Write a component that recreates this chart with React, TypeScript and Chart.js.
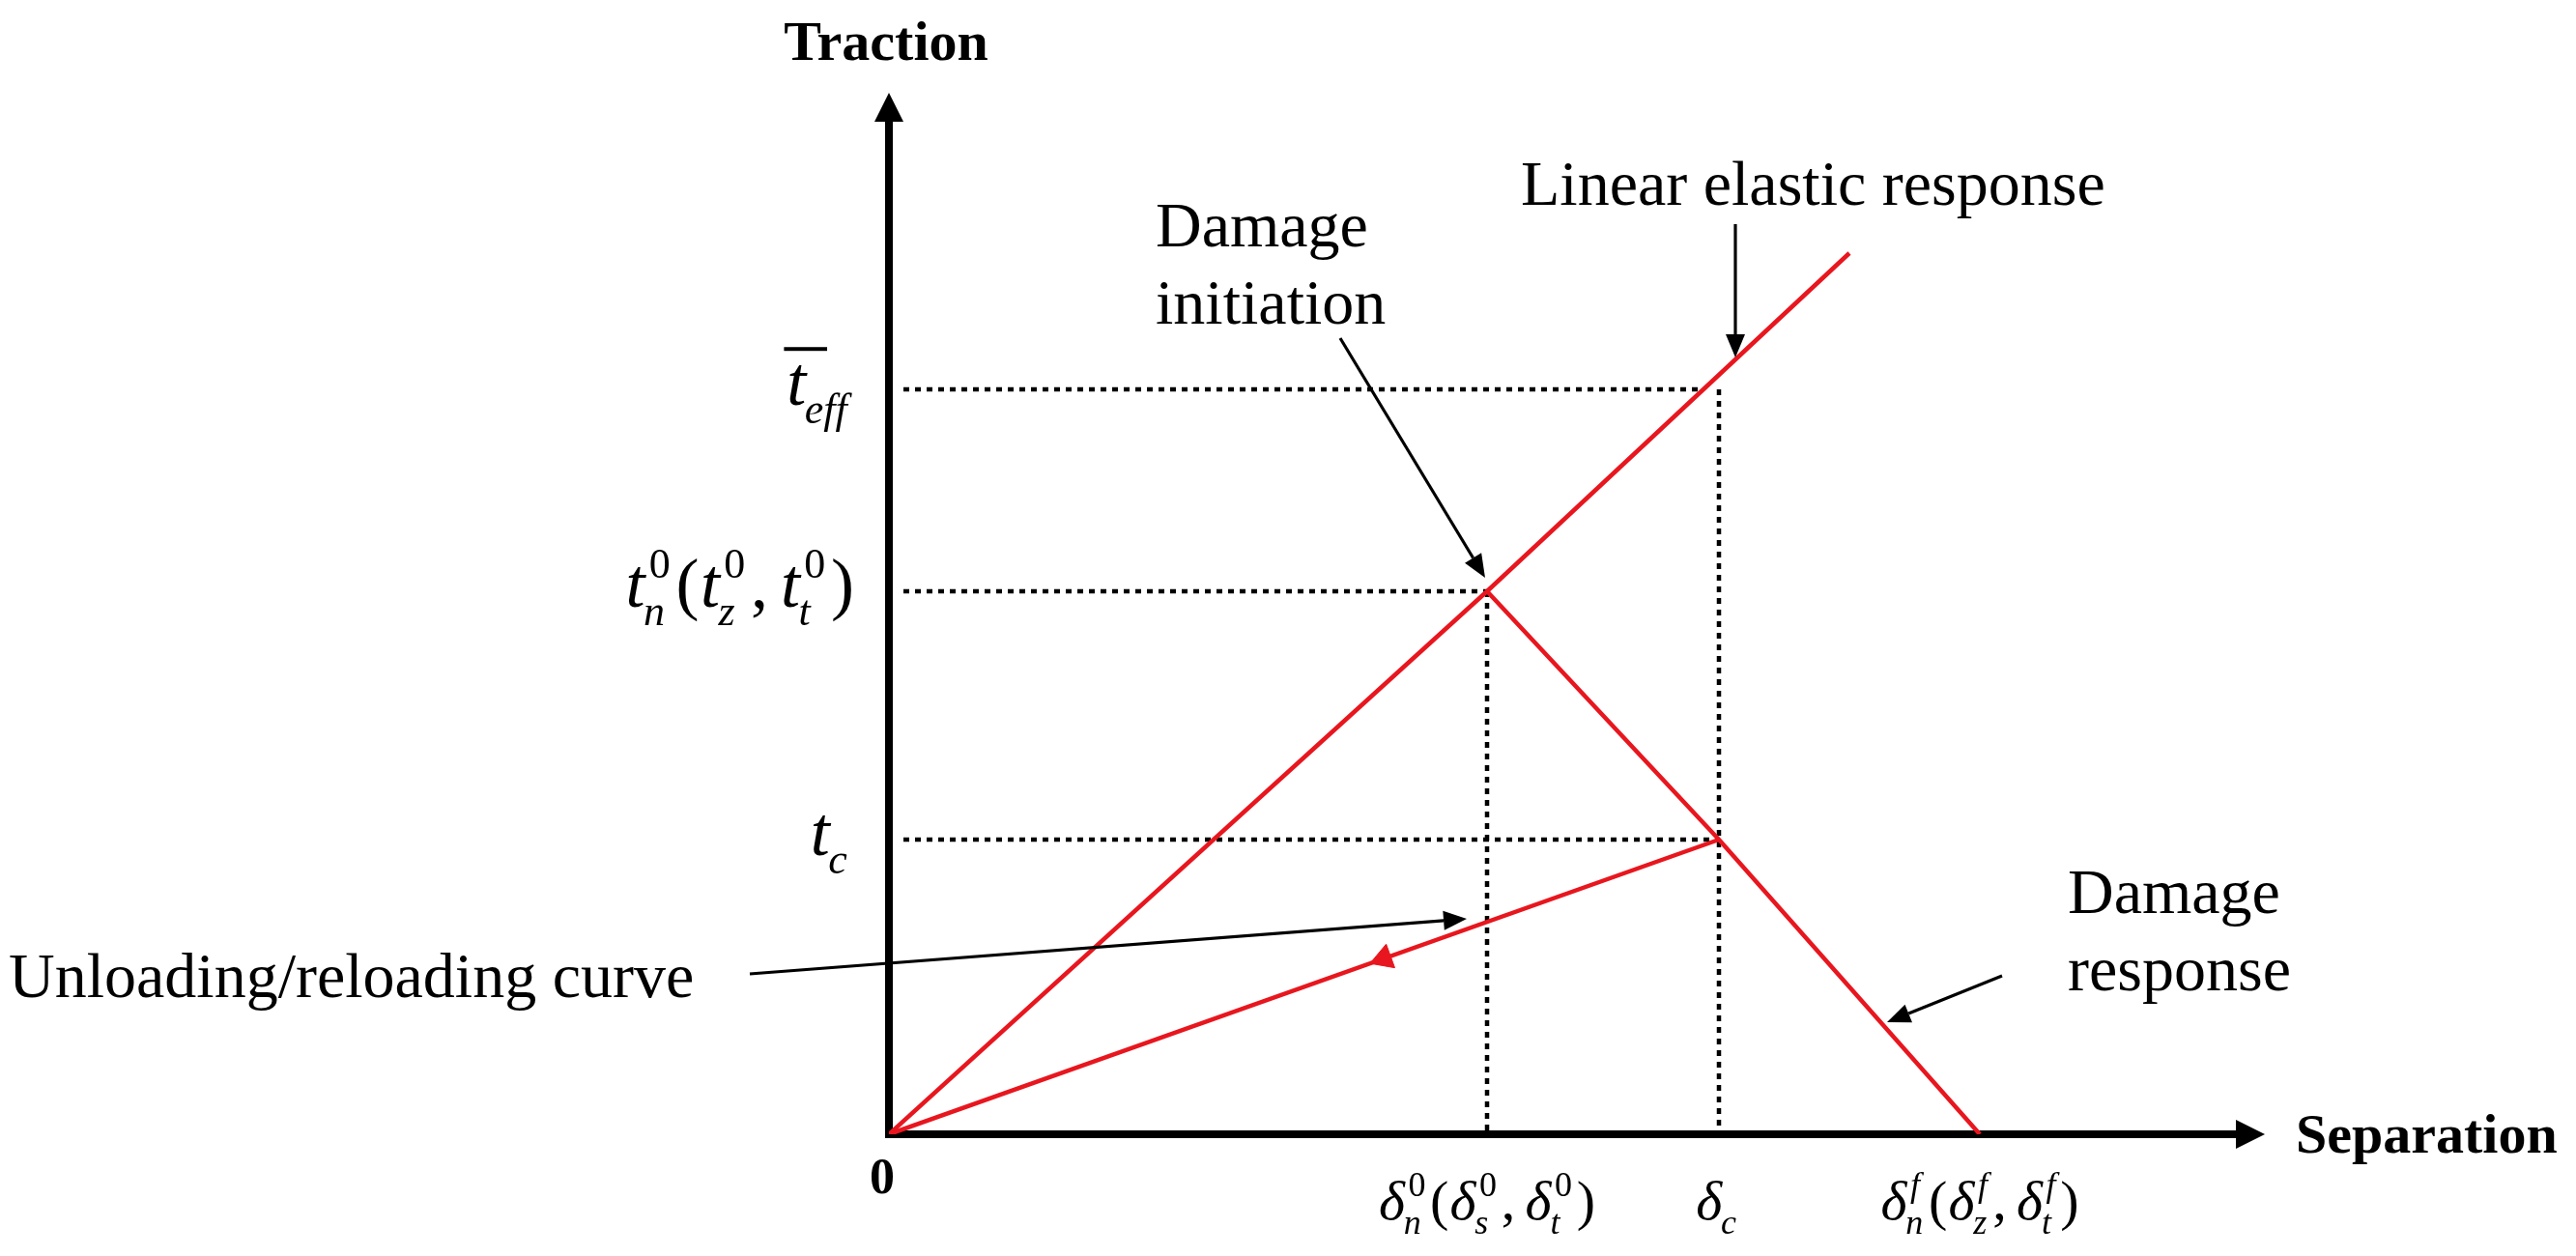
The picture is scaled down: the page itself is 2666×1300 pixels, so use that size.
import React, { useEffect, useRef } from 'react';
import { Chart, registerables } from 'chart.js';

Chart.register(...registerables);

const SERIF = "'Liberation Serif', 'Times New Roman', Times, serif";
const RED = '#e8161e';
const INK = '#000000';

// ---- axis extents (arbitrary units) ----
const X_RANGE = [0, 14.24];
const Y_RANGE = [0, 10.78];

// ---- key values of the traction–separation law ----
const SEPARATION_KEYS = [6.19, 8.59, 11.29]; // δn0, δc, δnf
const TRACTION_KEYS = [5.62, 3.05, 7.71]; // tn0, tc, t_eff

// ---- curves ----
const ELASTIC_X = [0, 6.19, 9.94];
const ELASTIC_Y = [0, 5.62, 9.12];
const DAMAGE_X = [6.19, 8.59, 11.29];
const DAMAGE_Y = [5.62, 3.05, 0];
const UNLOAD_X = [0, 8.59];
const UNLOAD_Y = [0, 3.05];
const UNLOAD_MARK_X = [5.12];
const UNLOAD_MARK_Y = [1.82];

// ---- dotted guide lines ----
const GUIDE_X = [
  [0.15, 8.4],
  [8.59, 8.59],
  [0.15, 6.19],
  [6.19, 6.19],
  [0.15, 8.59],
];
const GUIDE_Y = [
  [7.71, 7.71],
  [7.71, 0],
  [5.62, 5.62],
  [5.62, 0],
  [3.05, 3.05],
];

// ---- annotation arrows (from -> to) ----
const NOTE_ARROW_X = [
  [8.76, 8.76],
  [4.67, 6.17],
  [-1.44, 5.98],
  [11.52, 10.33],
];
const NOTE_ARROW_Y = [
  [9.42, 8.04],
  [8.24, 5.76],
  [1.66, 2.23],
  [1.64, 1.16],
];

// ---- annotation texts (left x, first baseline y) ----
const NOTE_LINES = [
  ['Linear elastic response'],
  ['Damage', 'initiation'],
  ['Unloading/reloading curve'],
  ['Damage', 'response'],
];
const NOTE_X = [6.54, 2.76, -9.11, 12.2];
const NOTE_Y = [9.62, 9.19, 1.42, 2.29];

// ---- axis titles ----
const AXIS_TITLES = ['Traction', 'Separation'];

type Part = { b: string; up?: boolean; sup?: string; sub?: string; bar?: boolean };

const Y_TICK_PARTS: Part[][] = [
  [{ b: 't', sup: '0', sub: 'n' }, { b: '(', up: true }, { b: 't', sup: '0', sub: 'z' }, { b: ',', up: true }, { b: 't', sup: '0', sub: 't' }, { b: ')', up: true }],
  [{ b: 't', sub: 'c' }],
  [{ b: 't', bar: true, sub: 'eff' }],
];
const X_TICK_PARTS: Part[][] = [
  [{ b: 'δ', sup: '0', sub: 'n' }, { b: '(', up: true }, { b: 'δ', sup: '0', sub: 's' }, { b: ',', up: true }, { b: 'δ', sup: '0', sub: 't' }, { b: ')', up: true }],
  [{ b: 'δ', sub: 'c' }],
  [{ b: 'δ', sup: 'f', sub: 'n' }, { b: '(', up: true }, { b: 'δ', sup: 'f', sub: 'z' }, { b: ',', up: true }, { b: 'δ', sup: 'f', sub: 't' }, { b: ')', up: true }],
];

function pts(xs: number[], ys: number[]) {
  return xs.map((x, i) => ({ x, y: ys[i] }));
}

function scriptFont(s: string, size: number) {
  return `${/^[0-9]+$/.test(s) ? '' : 'italic '}${size}px ${SERIF}`;
}

function layoutMath(ctx: CanvasRenderingContext2D, parts: Part[], M: number, S: number) {
  const items = parts.map((p) => {
    ctx.font = `${p.up ? '' : 'italic '}${M}px ${SERIF}`;
    const wb = ctx.measureText(p.b).width;
    let supW = 0;
    let subW = 0;
    if (p.sup) {
      ctx.font = scriptFont(p.sup, S);
      supW = ctx.measureText(p.sup).width + M * 0.06;
    }
    if (p.sub) {
      ctx.font = scriptFont(p.sub, S);
      subW = ctx.measureText(p.sub).width;
    }
    let gap = 0;
    if (p.sup || p.sub) gap = M * 0.08;
    if (p.b === ',') gap = M * 0.18;
    if (p.b === '(') gap = M * 0.02;
    return { p, wb, supW, subW, adv: wb + Math.max(supW, subW) + gap };
  });
  const total = items.reduce((s, it) => s + it.adv, 0);
  return { items, total };
}

function drawMath(
  ctx: CanvasRenderingContext2D,
  parts: Part[],
  x: number,
  baseline: number,
  align: 'left' | 'right' | 'center',
  M: number,
  S: number
) {
  const { items, total } = layoutMath(ctx, parts, M, S);
  let cx = align === 'left' ? x : align === 'right' ? x - total : x - total / 2;
  ctx.fillStyle = INK;
  ctx.textAlign = 'left';
  ctx.textBaseline = 'alphabetic';
  for (const it of items) {
    const p = it.p;
    ctx.font = `${p.up ? '' : 'italic '}${M}px ${SERIF}`;
    ctx.fillText(p.b, cx, baseline);
    if (p.bar) {
      ctx.fillRect(cx - M * 0.04, baseline - M * 0.83, M * 0.62, Math.max(3, M * 0.055));
    }
    const sx = cx + it.wb;
    if (p.sup) {
      ctx.font = scriptFont(p.sup, S);
      ctx.fillText(p.sup, sx + M * 0.06, baseline - M * 0.42);
    }
    if (p.sub) {
      ctx.font = scriptFont(p.sub, S);
      ctx.fillText(p.sub, sx - M * 0.02, baseline + M * 0.26);
    }
    cx += it.adv;
  }
}

function arrowHead(ctx: CanvasRenderingContext2D, x0: number, y0: number, x1: number, y1: number, len: number, half: number) {
  const a = Math.atan2(y1 - y0, x1 - x0);
  const bx = x1 - Math.cos(a) * len;
  const by = y1 - Math.sin(a) * len;
  const nx = -Math.sin(a) * half;
  const ny = Math.cos(a) * half;
  ctx.beginPath();
  ctx.moveTo(x1, y1);
  ctx.lineTo(bx + nx, by + ny);
  ctx.lineTo(bx - nx, by - ny);
  ctx.closePath();
  ctx.fill();
  return { bx, by };
}

const axesPlugin = {
  id: 'arrowAxes',
  beforeDatasetsDraw(chart: any) {
    const { ctx, scales } = chart;
    const xs = scales.x;
    const ys = scales.y;
    const ox = xs.getPixelForValue(0);
    const oy = ys.getPixelForValue(0);
    const xEnd = xs.getPixelForValue(X_RANGE[1]);
    const yEnd = ys.getPixelForValue(Y_RANGE[1]);
    ctx.save();
    ctx.strokeStyle = INK;
    ctx.fillStyle = INK;
    ctx.lineWidth = 8;
    ctx.lineCap = 'butt';
    ctx.beginPath();
    ctx.moveTo(ox, oy + 4);
    ctx.lineTo(ox, yEnd + 24);
    ctx.moveTo(ox - 4, oy);
    ctx.lineTo(xEnd - 24, oy);
    ctx.stroke();
    arrowHead(ctx, ox, oy, ox, yEnd, 30, 15);
    arrowHead(ctx, ox, oy, xEnd, oy, 30, 15);
    ctx.restore();
  },
  afterDatasetsDraw(chart: any) {
    const { ctx, scales } = chart;
    const xs = scales.x;
    const ys = scales.y;
    const ox = xs.getPixelForValue(0);
    const oy = ys.getPixelForValue(0);
    ctx.save();
    // annotation arrows
    ctx.strokeStyle = INK;
    ctx.fillStyle = INK;
    ctx.lineWidth = 3.2;
    NOTE_ARROW_X.forEach((ax, i) => {
      const ay = NOTE_ARROW_Y[i];
      const x0 = xs.getPixelForValue(ax[0]);
      const y0 = ys.getPixelForValue(ay[0]);
      const x1 = xs.getPixelForValue(ax[1]);
      const y1 = ys.getPixelForValue(ay[1]);
      const { bx, by } = arrowHead(ctx, x0, y0, x1, y1, 24, 10);
      ctx.beginPath();
      ctx.moveTo(x0, y0);
      ctx.lineTo(bx, by);
      ctx.stroke();
    });
    // annotation texts
    ctx.textAlign = 'left';
    ctx.textBaseline = 'alphabetic';
    ctx.font = `66px ${SERIF}`;
    NOTE_LINES.forEach((lines, i) => {
      const x = xs.getPixelForValue(NOTE_X[i]);
      const y = ys.getPixelForValue(NOTE_Y[i]);
      lines.forEach((t, k) => ctx.fillText(t, x, y + k * 80));
    });
    // axis titles
    ctx.font = `bold 58px ${SERIF}`;
    ctx.textAlign = 'center';
    ctx.fillText(AXIS_TITLES[0], ox - 3, ys.getPixelForValue(Y_RANGE[1]) - 34);
    ctx.textAlign = 'left';
    ctx.fillText(AXIS_TITLES[1], xs.getPixelForValue(X_RANGE[1]) + 32, oy + 19);
    // origin label
    ctx.textAlign = 'center';
    ctx.font = `bold 52px ${SERIF}`;
    ctx.fillText('0', ox - 7, oy + 61);
    // traction tick labels
    const yVals = [TRACTION_KEYS[0], TRACTION_KEYS[1], TRACTION_KEYS[2]];
    yVals.forEach((v, i) => {
      drawMath(ctx, Y_TICK_PARTS[i], ox - 36, ys.getPixelForValue(v) + 16, 'right', 72, 44);
    });
    // separation tick labels
    SEPARATION_KEYS.forEach((v, i) => {
      drawMath(ctx, X_TICK_PARTS[i], xs.getPixelForValue(v), oy + 88, 'center', 58, 36);
    });
    ctx.restore();
  },
};

export default function App() {
  const ref = useRef<HTMLCanvasElement | null>(null);
  useEffect(() => {
    if (!ref.current) return;
    const redLine = (data: any[]) => ({
      data,
      showLine: true,
      borderColor: RED,
      backgroundColor: RED,
      borderWidth: 4.5,
      pointRadius: 0,
      order: 1,
    });
    const guides = GUIDE_X.map((gx, i) => ({
      data: pts(gx, GUIDE_Y[i]),
      showLine: true,
      borderColor: INK,
      borderWidth: 4.5,
      borderDash: [6, 6],
      borderCapStyle: 'butt',
      pointRadius: 0,
      order: 5,
    }));
    const chart = new Chart(ref.current, {
      type: 'scatter',
      data: {
        datasets: [
          {
            data: pts(UNLOAD_MARK_X, UNLOAD_MARK_Y),
            pointStyle: 'triangle',
            pointRadius: 15,
            pointRotation: 250,
            backgroundColor: RED,
            borderColor: RED,
            borderWidth: 1,
            showLine: false,
            order: 0,
          },
          redLine(pts(ELASTIC_X, ELASTIC_Y)),
          redLine(pts(DAMAGE_X, DAMAGE_Y)),
          redLine(pts(UNLOAD_X, UNLOAD_Y)),
          ...guides,
        ] as any,
      },
      options: {
        animation: false,
        responsive: false,
        events: [],
        layout: { padding: { left: 920, right: 322, top: 96, bottom: 126 } },
        scales: {
          x: { type: 'linear', min: X_RANGE[0], max: X_RANGE[1], display: false },
          y: { type: 'linear', min: Y_RANGE[0], max: Y_RANGE[1], display: false },
        },
        plugins: { legend: { display: false }, tooltip: { enabled: false } },
      } as any,
      plugins: [axesPlugin],
    });
    return () => chart.destroy();
  }, []);
  return (
    <div style={{ position: 'fixed', left: 0, top: 0, width: 2666, height: 1300, background: '#fff' }}>
      <canvas ref={ref} width={2666} height={1300} style={{ display: 'block', width: 2666, height: 1300 }} />
    </div>
  );
}
